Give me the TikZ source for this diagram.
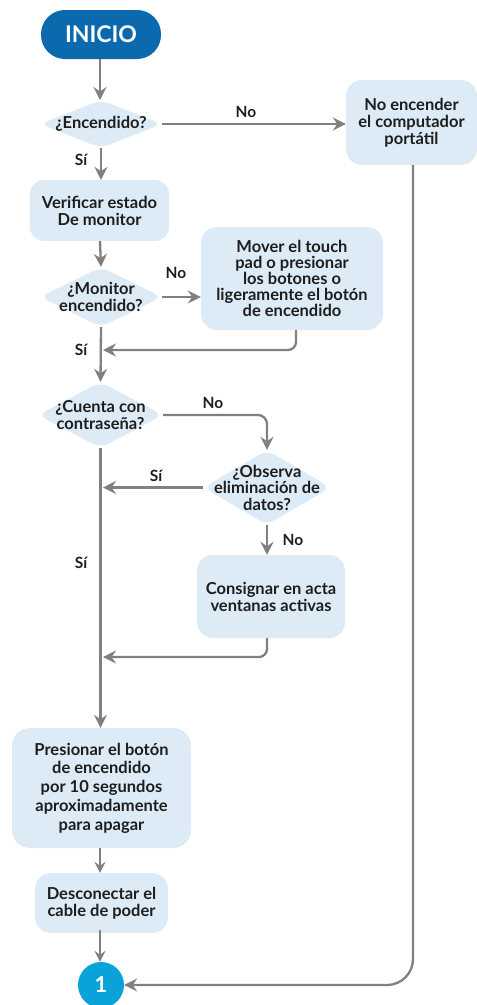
\documentclass[tikz,border=0pt]{standalone}
\usepackage{fontspec}
\setmainfont{Lato}
\usetikzlibrary{shapes.geometric,arrows.meta}
\definecolor{dblue}{HTML}{0B69AD}
\definecolor{lblue}{HTML}{DCEBF6}
\definecolor{agray}{HTML}{808080}
\definecolor{cyanone}{HTML}{0AA3D9}
\definecolor{txt}{HTML}{1E1E1E}
\begin{document}
\begin{tikzpicture}[x=1pt,y=-1pt,
  box/.style={fill=lblue, rounded corners=14pt, align=center, text=txt, inner sep=0pt,
    font=\bfseries\fontsize{16.5}{17}\selectfont},
  dia/.style={diamond, fill=lblue, rounded corners=9pt, inner sep=0pt},
  dtext/.style={align=center, text=txt, font=\bfseries\fontsize{16.5}{16.5}\selectfont},
  arr/.style={draw=agray, line width=2.3pt, -{Stealth[length=13pt,width=13pt,inset=4.5pt]}},
  arrs/.style={draw=agray, line width=1.6pt, -{Stealth[length=11pt,width=11pt,inset=4pt]}},
  ln/.style={draw=agray, line width=2.3pt},
  lbl/.style={text=txt, font=\bfseries\fontsize{15.5}{17}\selectfont}]
\useasboundingbox (0,0) rectangle (477,1005);

% nodes
\node[fill=dblue, rounded corners=24pt, minimum width=120pt, minimum height=49pt, inner sep=0pt,
  text=white, font=\bfseries\fontsize{23}{26}\selectfont] (start) at (101,34.5) {INICIO};
\node[dia, minimum width=122pt, minimum height=48pt,
  label={[dtext]center:¿Encendido?}] (d1) at (101,124) {};
\node[box, minimum width=131pt, minimum height=85pt, rounded corners=16pt] (noenc) at (411.5,122.5)
  {No encender\\el computador\\portátil};
\node[box, minimum width=139pt, minimum height=61pt] (verif) at (99.5,210.5)
  {Verificar estado\\De monitor};
\node[dia, minimum width=122pt, minimum height=60pt,
  label={[dtext]center:¿Monitor\\encendido?}] (d2) at (101,297) {};
\node[box, minimum width=182pt, minimum height=103pt, rounded corners=16pt,
  font=\bfseries\fontsize{16.5}{16}\selectfont] (mover) at (292,278.5)
  {Mover el touch\\pad o presionar\\los botones o\\ligeramente el botón\\de encendido};
\node[dia, minimum width=125pt, minimum height=66pt,
  label={[dtext]center:¿Cuenta con\\contraseña?}] (d3) at (100.5,415) {};
\node[dia, minimum width=127pt, minimum height=75pt,
  label={[dtext]center:¿Observa\\eliminación de\\datos?}] (d4) at (267,487.5) {};
\node[box, minimum width=148pt, minimum height=83pt, rounded corners=16pt] (consig) at (271,596.5)
  {Consignar en acta\\ventanas activas};
\node[box, minimum width=179pt, minimum height=120pt, rounded corners=18pt,
  font=\bfseries\fontsize{16.5}{18.8}\selectfont] (presion) at (101.5,788)
  {Presionar el botón\\de encendido\\por 10 segundos\\aproximadamente\\para apagar};
\node[box, minimum width=133pt, minimum height=60pt, rounded corners=16pt] (desc) at (101.5,903)
  {Desconectar el\\cable de poder};
\node[circle, fill=cyanone, minimum size=46pt, inner sep=0pt, text=white,
  font=\bfseries\fontsize{22}{24}\selectfont] (one) at (101,985) {1};

% junction points on main vertical line
\coordinate (j1) at (103,350);
\coordinate (j2) at (103,487.5);
\coordinate (j3) at (103,657);

% connectors
\draw[arr] (start.south -| 100,0) -- (100,100);
\draw[arr] (d1.east) -- (d1.east -| noenc.west);
\draw[arr] (d1.south) -- (d1.south |- verif.north);
\draw[arr] (verif.south -| 100,0) -- (d2.north);
\draw[arr] (d2.east) -- (d2.east -| mover.west);
\draw[arr, rounded corners=8pt] ([xshift=4pt]mover.south) |- (j1);
\draw[arr] (d2.south) -- (d3.north);
\draw[arr, rounded corners=9pt] (d3.east) -| (d4.north);
\draw[arr] (d4.west) -- (j2);
\draw[arr] (d4.south) -- (d4.south |- consig.north);
\draw[arr, rounded corners=8pt] (consig.south -| d4.south) |- (j3);
\draw[arr] (d3.south) -- (d3.south |- presion.north);
\draw[arrs] (presion.south -| 100,0) -- (desc.north -| 100,0);
\draw[arrs] ([yshift=3pt]desc.south -| 100,0) -- (one.north -| 100,0);
\draw[arr, rounded corners=26pt] ([xshift=1.5pt]noenc.south) |- (one.east);

% labels
\node[lbl] (lno1) at (246,112) {No};
\node[lbl] (lsi1) at (81,160) {Sí};
\node[lbl] (lno2) at (176,273) {No};
\node[lbl] (lsi2) at (81,350) {Sí};
\node[lbl] (lno3) at (213,403) {No};
\node[lbl] (lsi3) at (156,476) {Sí};
\node[lbl] (lno4) at (293,540) {No};
\node[lbl] (lsi4) at (81,563) {Sí};
\end{tikzpicture}
\end{document}
